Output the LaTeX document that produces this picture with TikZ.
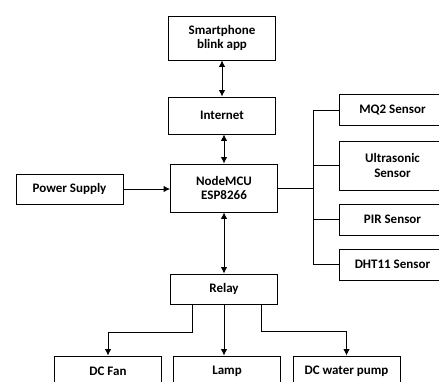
\documentclass[tikz,border=0pt]{standalone}
\usepackage{fontspec}
\setmainfont{Carlito}
\usetikzlibrary{arrows.meta}

\tikzset{
  block/.style = {draw, line width = 0.9pt, minimum width = 107pt, align = center,
    font = \bfseries\fontsize{13}{14.5}\selectfont},
  link/.style = {line width = 0.9pt},
  arr/.style = {link, -{Latex[length = 6.5pt, width = 6.5pt]}},
  twoarr/.style = {link, {Latex[length = 6.5pt, width = 6.5pt]}-{Latex[length = 6.5pt, width = 6.5pt]}}
}

\begin{document}
\begin{tikzpicture}[x = 1pt, y = -1pt]
      \useasboundingbox (0, 0) rectangle (439, 381);
      \clip (0, 0) rectangle (439, 381);
      % centre column
      \node[block, minimum height = 44pt] (phone) at (222, 38) {Smartphone\\blink app};
      \node[block, minimum height = 37pt] (internet) at (222, 115.5) {Internet};
      \node[block, minimum height = 48pt] (mcu) at (224, 188) {NodeMCU\\ESP8266};
      \node[block, minimum height = 30pt] (relay) at (224, 289) {Relay};
      \node[block, minimum height = 30pt] (power) at (69.5, 189) {Power Supply};
      % sensors
      \node[block, minimum height = 31pt] (mq2) at (392.5, 110) {MQ2 Sensor};
      \node[block, minimum height = 49pt] (ultra) at (392.5, 165.5) {Ultrasonic\\Sensor};
      \node[block, minimum height = 31pt] (pir) at (392.5, 219.5) {PIR Sensor};
      \node[block, minimum height = 31pt] (dht) at (392.5, 264.5) {DHT11 Sensor};
      % loads
      \node[block, minimum height = 30pt] (fan) at (108, 371) {DC Fan};
      \node[block, minimum height = 30pt] (lamp) at (227, 371) {Lamp};
      \node[block, minimum height = 30pt] (pump) at (346.5, 371) {DC water pump};

      \draw[twoarr] (phone.south) -- (internet.north);
      \draw[twoarr] (internet.south -| mcu) -- (mcu.north);
      \draw[twoarr] (mcu.south) -- (relay.north);
      \draw[arr] (power.east) -- (power.east -| mcu.west);

      \draw[link] (mcu.east) -- ++(36, 0);
      \draw[link] (mq2.west) -- ++(-25, 0) |- (dht.west);
      \draw[link] (ultra.west) -- ++(-25, 0);
      \draw[link] (pir.west) -- ++(-25, 0);

      \draw[arr] ([xshift = -32pt] relay.south) -- ++(0, 28) -| (fan.north);
      \draw[arr] (relay.south) -- (relay.south |- lamp.north);
      \draw[arr] ([xshift = 37pt] relay.south) -- ++(0, 27) -| (pump.north);
    \end{tikzpicture}
\end{document}
